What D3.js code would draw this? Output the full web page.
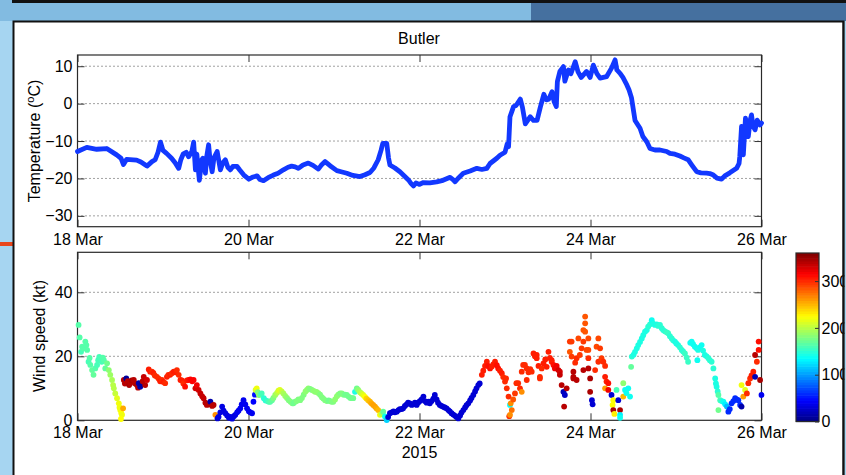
<!DOCTYPE html>
<html><head><meta charset="utf-8">
<script src="https://cdn.jsdelivr.net/npm/d3@7"></script>
<style>
body{margin:0;background:#a4d3ef;}
svg{display:block;font-family:"Liberation Sans",Arial,Helvetica,sans-serif;}
</style>
</head><body><svg id="c" width="846" height="475"></svg>
<script>
// ---------------- DATA ----------------
// hours after 18 Mar 2015 00:00
const tempHours=[0,2.6,5.4,8.2,11.0,12.2,12.9,13.8,16.6,17.8,
19.5,20.9,21.8,22.6,23.3,24.0,25.0,26.4,27.4,28.4,
29.0,29.7,30.5,31.2,32.1,32.6,33.1,33.5,34.2,34.9,
35.2,35.9,36.3,36.8,37.2,37.8,38.3,39.2,39.7,40.1,
40.8,41.5,42.2,42.9,43.6,44.8,45.6,46.7,48.1,49.3,
50.4,51.2,52.2,53.5,55.0,56.3,57.8,59.1,60.1,61.1,
62.0,63.3,64.8,66.1,67.6,68.4,69.5,70.9,72.8,74.0,
75.6,77.3,79.3,80.7,82.1,83.2,84.4,85.2,85.7,86.8,
87.3,87.7,89.1,90.5,91.6,92.9,93.6,94.3,95.0,95.9,
97.1,98.9,100.8,102.6,104.6,105.4,106.0,106.8,108.3,110.2,
112.1,113.5,114.9,115.8,117.7,118.6,120.0,120.6,121.0,121.4,
122.4,123.1,124.3,124.9,125.7,127.1,128.0,129.0,129.9,130.9,
131.6,132.3,133.2,133.8,134.4,134.7,135.4,136.4,136.8,137.8,
138.5,139.7,140.5,141.4,142.9,143.9,144.8,145.8,146.7,148.5,
149.9,150.9,151.4,152.3,153.1,154.2,154.8,155.5,156.5,157.9,
158.7,159.8,160.7,162.1,163.5,165.4,166.3,167.7,169.1,170.2,
171.4,172.5,173.8,175.0,176.6,177.5,178.5,179.5,180.8,181.7,
183.1,185.0,185.7,185.9,186.4,186.9,187.5,188.3,188.8,189.2,
189.6,190.2,190.8,191.6,192];
const tempValues=[-12.8,-11.7,-12.2,-12.0,-13.7,-14.6,-16.3,-14.9,-15.1,-15.6,
-16.7,-15.5,-15.0,-13,-10.3,-12.5,-13.3,-14.6,-15.8,-17.3,
-15,-13.4,-13,-14.2,-12.8,-10.3,-17.7,-13.5,-20.5,-15,
-14.6,-18.6,-14,-11.0,-15,-18.2,-14.5,-12.8,-15.5,-17.7,
-15.8,-15,-17,-17.7,-16.8,-16.8,-17.8,-19.1,-20.2,-19.6,
-19.3,-20.3,-20.6,-19.8,-19.1,-18.6,-17.7,-17.0,-16.7,-16.9,
-17.3,-16.4,-15.9,-16.5,-17.5,-16.5,-15.5,-16.6,-17.9,-18.2,
-18.6,-19.2,-19.5,-19.0,-18.4,-17.2,-15,-12.5,-10.6,-10.6,
-14.5,-16.4,-17.2,-18.2,-19.2,-20.4,-21.3,-22,-21.2,-21.6,
-21.1,-21.2,-20.9,-20.5,-19.7,-20.3,-20.9,-20.0,-18.6,-18.0,
-17.3,-17.6,-17.3,-16.0,-14.6,-13.8,-13.0,-10.8,-11.5,-3.5,
-0.8,-0.5,1.2,-1,-5.4,-3.5,-4.5,-4.5,-1,2.5,
1,1.2,3.2,0.5,-0.8,5.9,8.6,9.9,6.0,9.0,
8.0,11.2,8.5,7.0,8.6,7.0,10.3,8.0,6.8,7.2,
9.5,11.7,9,8.1,7.0,5,3.7,1.6,-4.5,-6.6,
-8.8,-10.2,-12.0,-12.4,-12.4,-12.8,-13.3,-13.5,-14.0,-14.5,
-15,-16.5,-18.2,-18.5,-18.6,-18.7,-19.1,-19.9,-20.2,-19.3,
-18.5,-17.3,-16.0,-14.2,-6.1,-13.7,-3.9,-8.8,-4.5,-3.0,
-6,-7.0,-4.4,-5.7,-5.2];

// wind observations: [hour, speed (kt), direction (deg)]
const windObs=[
[0.3,29.8,165],[0.6,25.9,165],[1.0,21.4,160],[1.3,23,165],[1.6,22.5,165],[2.2,24.6,165],[2.5,23.5,165],[2.7,22,165],[3.1,18.3,160],[3.4,19.5,165],[3.6,17.3,165],[4.1,15.7,170],[4.5,14.2,170],[5.0,16.2,165],[5.5,17.3,160],[5.8,18.8,160],[6.1,19.8,160],[6.4,19.4,160],[6.8,18.3,160],[7.1,19.6,165],[7.4,18.8,165],[7.8,16.2,170],[8.3,17.8,175],[8.8,15.7,185],[9.2,14.2,190],[9.7,12.6,195],[10.0,11.0,200],[10.2,10,200],[10.6,8.4,205],[11.1,6.9,215],[11.6,5.3,220],[11.8,4.0,220],[12.0,3.2,220],[12.3,2.2,225],[12.5,1.7,220],[12.2,0.4,225],[12.8,3.75,255],
[13.0,12.6,340],[13.3,11.5,340],[13.7,13.1,10],[14.1,12.2,340],[14.5,11.0,345],[14.8,11.6,340],[15.2,12.5,345],[15.8,12.6,340],[16.2,11.5,340],[16.7,11,345],[17.0,10.2,340],[17.2,11.6,15],[17.6,10.5,15],[17.9,11.2,10],[18.3,12.2,340],[18.6,13.6,335],[19.0,11,340],[19.5,12.6,330],
[20.0,15.9,305],[20.4,15.2,305],[20.9,15.2,300],[21.3,14.8,305],[21.7,14.0,300],[22.3,13.6,300],[22.8,13.0,300],[23.2,12.2,305],[23.7,12.6,300],[24.1,12.0,305],[24.6,11.6,300],[25.1,13.6,305],[25.5,14.2,300],[26.0,14.2,305],[26.5,14.7,300],[27.0,15.2,305],[27.5,15.0,305],[27.9,15.7,300],[28.4,14.2,300],[28.9,12.6,305],[29.3,12.5,305],[29.7,11.5,300],[30.2,10.5,310],[30.7,12.5,305],[31.2,12.6,310],[31.7,12.8,315],[32.2,12.2,315],[32.6,12.6,315],[33.1,10,330],[33.5,11,320],[34.0,9.5,330],[34.5,8.4,335],[35.0,7.5,335],[35.4,6.9,335],[35.9,5.5,340],[36.3,4.8,340],[36.8,5.0,340],[37.3,5.8,15],[37.8,4.5,340],[38.2,4.8,340],[38.7,1.7,265],
[39.3,0.6,30],[39.6,1.1,35],[40.1,2.5,35],[40.6,4.3,35],[41.0,3.0,35],[41.5,2.2,35],[42.0,1.5,35],[42.5,0.8,35],[42.9,1.1,35],[43.4,0.5,35],[43.9,1.3,35],[44.3,1.7,35],[44.8,2.5,40],[45.2,3.0,40],[45.7,3.75,40],[46.1,5.0,40],[46.6,6.3,40],[47.1,5.0,40],[47.6,3.75,40],[48.1,2.8,40],[48.5,2.5,40],[49.0,2.2,40],[49.4,5.8,45],[49.8,8.0,50],
[50.0,9.5,210],[50.3,10.0,220],[50.6,8.8,180],[50.9,7.9,190],[51.3,8.0,170],[51.7,8.4,160],[52.3,6.9,150],[52.8,6.2,150],[53.3,6.0,155],[53.7,5.8,160],[54.1,5.8,165],[54.6,6.3,170],[55.0,7.0,180],[55.5,7.9,190],[56.0,8.6,200],[56.4,9.3,210],[56.8,9.5,215],[57.3,9.0,205],[57.8,8.4,195],[58.3,7.6,190],[58.8,7.0,185],[59.3,6.3,180],[59.8,5.8,180],[60.3,5.3,180],[60.6,5.3,175],[61.1,5.8,175],[61.5,6.0,180],[62.0,6.5,180],[62.5,6.3,180],[63.0,7.0,180],[63.5,8.0,180],[64.0,9.0,185],[64.4,9.5,185],[64.8,10,185],[65.3,9.8,180],[65.8,9.5,180],[66.3,9.2,185],[66.7,8.9,185],[67.1,8.9,185],[67.6,8.5,185],[68.1,8.0,180],[68.6,7.2,180],[69.0,6.8,180],[69.5,6.3,180],[70.0,6.0,180],[70.5,6.2,175],[70.9,6.0,175],[71.3,5.8,180],[71.8,5.8,180],[72.3,6.5,185],[72.8,7.5,185],[73.2,8.0,185],[73.7,8.4,180],[74.2,8.4,180],[74.7,8.0,180],[75.1,8.0,175],[75.6,7.9,175],[76.1,7.4,175],[76.6,7.0,175],[77.0,6.9,175],[77.4,6.9,175],[77.9,8.9,145],[78.4,10,175],[78.8,9.5,185],[79.3,8.8,195],[79.7,8.4,205],[80.2,7.9,215],[80.7,7.3,225],[81.1,6.8,240],[81.6,6.3,245],[82.1,5.8,250],[82.5,5.3,255],[83.0,4.8,258],[83.5,4.3,258],[83.9,3.75,255],[84.4,3.2,250],[84.9,1.7,220],[85.4,2.0,200],[85.8,2.7,170],[86.3,1.2,140],[86.8,0.1,120],
[87.2,1.0,30],[87.7,2.2,30],[88.2,2.5,30],[88.7,2.8,30],[89.1,2.5,30],[89.6,2.7,30],[90.1,3.2,30],[90.5,3.5,30],[91.0,3.5,30],[91.4,3.75,30],[91.9,4.5,30],[92.4,5.0,30],[92.8,5.5,30],[93.3,5.3,30],[93.8,4.8,30],[94.2,5.0,30],[94.7,5.5,30],[95.2,4.8,30],[95.6,5.5,30],[96.1,6.0,30],[96.6,6.5,30],[97.1,7.4,30],[97.5,6.0,30],[98.0,5.5,30],[98.5,5.8,30],[98.9,5.3,30],[99.4,6.0,30],[99.9,6.8,30],[100.3,7.9,30],[100.8,6.5,30],[101.2,5.5,30],[101.7,4.8,30],[102.2,4.5,30],[102.7,4.2,30],[103.1,4.0,30],[103.6,3.75,30],[104.1,3.2,30],[104.5,2.8,30],[105.0,2.2,30],[105.5,1.8,30],[106.0,1.4,30],[106.4,1.0,30],[106.9,0.6,30],[107.4,1.5,30],[107.8,2.4,30],[108.3,3.2,30],[108.8,4.0,30],[109.2,4.7,30],[109.7,5.3,30],[110.2,6.2,30],[110.6,7.0,30],[111.1,7.9,30],[111.6,9.0,30],[112.0,10,30],[112.5,11,30],[112.9,11.5,30],
[113.5,14.2,305],[113.9,15.5,305],[114.4,17.0,305],[114.9,18.3,305],[115.3,17.0,310],[115.8,16.2,310],[116.3,16.8,305],[116.7,17.5,305],[117.2,18.3,305],[117.7,17.2,310],[118.1,16.2,310],[118.6,15.5,305],[119.1,14.7,305],[119.5,13.5,300],[120.0,12.1,300],[120.3,13.1,300],[120.5,10.0,300],[121.0,7.4,300],[121.2,1.3,300],[121.4,4.8,135],[121.6,5.3,265],[121.9,3.2,275],[121.4,1.7,265],[122.3,6.5,285],[122.8,8.4,295],[123.2,11.6,300],[123.7,11.6,300],[124.2,10,300],[124.7,8.9,265],[124.7,15.2,300],[125.1,17.3,300],[125.6,17.3,300],[126.1,16.2,300],[126.1,12.6,300],[126.6,15.0,300],[127.1,16.0,300],[127.5,15.2,300],[128.0,20.9,305],[128.4,20.0,305],[128.9,19.4,305],[128.9,20.4,305],[129.4,17.0,305],[129.8,13.6,300],[129.8,13.1,300],[130.3,16.2,300],[130.8,17.8,305],[131.3,19.0,305],[131.7,16.7,305],[132.2,21.4,305],[132.6,19.5,305],[133.1,18.8,305],[133.1,18.3,305],[133.6,17.3,310],[134.0,16.2,320],[134.5,17.0,320],[135.0,15.7,330],[135.4,15.2,330],[135.4,14.2,335],[135.9,11,340],[136.4,8.9,20],[136.8,7.9,25],[136.6,4.3,340],[137.3,10,340],
[138.2,24.6,295],[138.2,21.4,285],[138.7,19.9,295],[138.7,24.6,295],[139.2,13.6,340],[139.2,15.2,340],[139.2,13.1,340],[139.7,18.0,300],[140.1,12.6,340],[140.1,19.4,300],[140.6,25.6,290],[141.0,20.4,295],[141.5,22.5,295],[142.0,28.2,285],[142.0,15.7,340],[142.0,24.6,295],[142.5,32.4,285],[142.5,30.3,285],[142.5,27.7,285],[142.9,22,290],[143.4,25.6,290],[143.4,22,290],[143.4,19.4,300],[143.4,16.2,340],[143.9,13.1,345],[143.9,8.9,345],[144.4,6.3,30],[144.6,5.0,30],[145.3,15.7,300],[145.7,23,290],[146.2,25.6,290],[146.2,18.3,300],[146.7,22.5,295],[147.1,19.4,295],[147.6,18.3,300],[148.1,17.0,300],[148.1,13.6,305],[148.5,12.1,305],[148.1,10,260],[149.0,11.6,310],[149.0,9.5,320],[149.9,7.9,30],[150.2,4.8,225],[150.4,6.3,225],[150.4,3.2,345],[150.7,2.0,230],[151.3,9.5,160],[151.8,6.3,30],[152.3,3.2,345],[152.3,1.7,130],[152.3,0.8,140],[153.2,11.6,185],[153.2,7.4,250],[153.7,9.5,140],[154.1,8.5,140],[154.6,10,140],[155.1,7.4,140],[155.4,16.7,170],[155.6,19.9,150],
[156.1,20.5,145],[156.5,21.4,145],[157.0,22.5,145],[157.4,23.5,145],[157.9,24.5,145],[158.4,25.6,145],[158.8,26.6,145],[159.3,27.7,145],[159.8,28.2,145],[160.2,29.3,150],[160.7,30.0,150],[161.2,31.3,140],[161.6,30.2,145],[162.1,29.8,145],[162.6,30.0,145],[163.0,29.5,150],[163.5,29.8,150],[164.0,28.8,150],[164.4,28.2,150],[164.9,27.8,150],[165.4,27.5,155],[165.8,27.2,155],[166.3,26.3,150],[166.8,25.6,150],[167.2,25.0,150],[167.7,24.6,145],[168.1,24.0,145],[168.6,23.5,145],[169.1,22.8,150],[169.6,22,150],[170.0,21.5,150],[170.5,20.9,155],[171.0,19.6,155],[171.4,18.3,155],[172.0,24.2,140],[172.4,24.6,140],[172.8,23.8,140],[173.3,23,140],[173.8,22.5,140],[174.2,22,145],[174.0,18.8,140],[174.7,22.8,140],[175.2,23.5,140],[175.6,21.8,145],[176.1,20.4,145],[176.6,20.0,145],[177.1,19.4,150],[177.5,18.8,150],[178.0,18.3,150],[178.5,16.2,150],[179.0,13.1,145],[179.2,11.5,145],[179.4,10.5,145],[179.7,9.0,150],[179.9,7.9,165],[180.4,6.3,160],[179.9,3.2,175],[180.8,6.0,150],
[181.3,5.8,140],[181.8,5.0,130],[182.3,4.3,110],[182.7,2.7,60],[183.1,3.5,60],[183.6,5.3,60],[184.1,6.0,60],[184.6,6.9,60],[185.0,6.5,60],[185.5,6.3,60],[186.0,4.8,60],[186.4,4.3,15],[186.4,11,220],[186.9,7.4,260],[187.4,9.5,215],[187.9,8.4,300],[188.3,11.6,300],[188.8,13.1,300],[189.2,14.0,305],[189.7,15.2,305],[190.2,13.6,20],[190.2,20.4,340],[190.7,18.3,300],[191.2,22,310],[191.2,24.6,310],[191.6,12.6,345],[192.0,7.9,40]
];

const dateTickLabels=["18 Mar","20 Mar","22 Mar","24 Mar","26 Mar"];
const tempTicks=[10,0,-10,-20,-30];
const windTicks=[0,20,40];
const windGrid=[20,40];
const dirTicks=[0,100,200,300];
const titleText="Butler";
const yearText="2015";

// ---------------- DRAW ----------------
const svg=d3.select("#c");
const t0=Date.UTC(2015,2,18);
const toDate=h=>new Date(t0+h*3600e3);

// slide background
svg.append("rect").attr("x",0).attr("y",0).attr("width",846).attr("height",475).attr("fill","#a6d5f1");
svg.append("rect").attr("x",0).attr("y",0).attr("width",846).attr("height",21).attr("fill","#82bbe1");
svg.append("rect").attr("x",531).attr("y",3).attr("width",315).attr("height",18).attr("fill","#45709f");
svg.append("rect").attr("x",12).attr("y",0).attr("width",834).attr("height",3).attr("fill","#111");
svg.append("rect").attr("x",0).attr("y",242).attr("width",13).attr("height",4).attr("fill","#e8461c");
// figure
svg.append("rect").attr("x",13.5).attr("y",21.5).attr("width",830).attr("height",460)
  .attr("fill","#fff").attr("stroke","#111").attr("stroke-width",2);

const L=77.5,R=761.5,T1=55,B1=226.7,T2=252.3,B2=420.3;
const x=d3.scaleUtc().domain([toDate(0),toDate(192)]).range([L,R]);
const yT=d3.scaleLinear().domain([-32.9,13]).range([B1,T1]);
const yW=d3.scaleLinear().domain([0,52.5]).range([B2,T2]);
const dateTicks=dateTickLabels.map((s,i)=>toDate(i*48));
const fmt=(d)=>dateTickLabels[dateTicks.findIndex(t=>+t===+d)];

function jet(t){
  const c=v=>Math.max(0,Math.min(1,v));
  const r=c(1.5-Math.abs(4*t-3)),g=c(1.5-Math.abs(4*t-2)),b=c(1.5-Math.abs(4*t-1));
  return d3.rgb(r*255,g*255,b*255).toString();
}
const cDir=d3.scaleLinear().domain([0,360]).range([0,1]).clamp(true);

function panel(yScale,top,bottom,yTicks,gridVals){
  const g=svg.append("g");
  g.selectAll(".gr").data(gridVals).enter().append("line")
    .attr("x1",L).attr("x2",R).attr("y1",d=>yScale(d)).attr("y2",d=>yScale(d))
    .attr("stroke","#444").attr("stroke-width",1).attr("stroke-dasharray","1,3");
  const styleAx=sel=>{sel.select(".domain").remove();sel.selectAll("line").attr("stroke","#333");
    sel.selectAll("text").attr("font-size",16).attr("fill","#000").attr("font-family","Liberation Sans, Arial, sans-serif");};
  g.append("g").attr("transform",`translate(0,${bottom})`)
    .call(d3.axisBottom(x).tickValues(dateTicks).tickFormat(fmt).tickSize(-7).tickPadding(6.5)).call(styleAx);
  g.append("g").attr("transform",`translate(0,${top})`)
    .call(d3.axisTop(x).tickValues(dateTicks).tickFormat("").tickSize(-7)).call(styleAx);
  g.append("g").attr("transform",`translate(${L},0)`)
    .call(d3.axisLeft(yScale).tickValues(yTicks).tickSize(-7).tickPadding(5)).call(styleAx);
  g.append("g").attr("transform",`translate(${R},0)`)
    .call(d3.axisRight(yScale).tickValues(yTicks).tickFormat("").tickSize(-7)).call(styleAx);
  g.append("rect").attr("x",L).attr("y",top).attr("width",R-L).attr("height",bottom-top)
    .attr("fill","none").attr("stroke","#2a2a2a").attr("stroke-width",1.2);
  return g;
}

panel(yT,T1,B1,tempTicks,tempTicks);
panel(yW,T2,B2,windTicks,windGrid);

// temperature line
const tData=tempHours.map((h,i)=>({d:toDate(h),v:tempValues[i]}));
svg.append("path").datum(tData)
  .attr("d",d3.line().x(d=>x(d.d)).y(d=>yT(d.v)))
  .attr("fill","none").attr("stroke","#1238ff").attr("stroke-width",4.8)
  .attr("stroke-linejoin","round").attr("stroke-linecap","round");

// wind scatter
svg.append("g").selectAll("circle").data(windObs).enter().append("circle")
  .attr("cx",d=>x(toDate(d[0]))).attr("cy",d=>yW(d[1])).attr("r",2.9)
  .attr("fill",d=>jet(cDir(d[2])));

// labels
svg.append("text").attr("x",419).attr("y",43.5).attr("text-anchor","middle").attr("font-size",16).text(titleText);
svg.append("text").attr("x",x(dateTicks[2])).attr("y",457.5).attr("text-anchor","middle").attr("font-size",16).text(yearText);
const tl=svg.append("text").attr("transform","translate(40,141) rotate(-90)").attr("text-anchor","middle").attr("font-size",16);
tl.append("tspan").text("Temperature (");
tl.append("tspan").attr("font-size",11).attr("dy",-6).text("o");
tl.append("tspan").attr("dy",6).text("C)");
svg.append("text").attr("transform","translate(45,336) rotate(-90)").attr("text-anchor","middle").attr("font-size",16).text("Wind speed (kt)");

// colorbar
const cbX=796,cbW=23,cbT=253,cbB=421.5;
const yC=d3.scaleLinear().domain([0,360]).range([cbB,cbT]);
const nC=64;
svg.append("g").selectAll("rect").data(d3.range(nC)).enter().append("rect")
  .attr("x",cbX).attr("width",cbW)
  .attr("y",i=>yC((i+1)*360/nC)).attr("height",i=>yC(i*360/nC)-yC((i+1)*360/nC)+0.6)
  .attr("fill",i=>jet((i+0.5)/nC));
svg.append("rect").attr("x",cbX).attr("y",cbT).attr("width",cbW).attr("height",cbB-cbT)
  .attr("fill","none").attr("stroke","#2a2a2a").attr("stroke-width",1.2);
const cax=svg.append("g").attr("transform",`translate(${cbX+cbW},0)`)
  .call(d3.axisRight(yC).tickValues(dirTicks).tickSize(-4).tickPadding(2.5));
cax.select(".domain").remove();
cax.selectAll("line").attr("stroke","#333");
cax.selectAll("text").attr("font-size",16).attr("fill","#000").attr("font-family","Liberation Sans, Arial, sans-serif");

// right edge of figure (clips colorbar labels as in the original screenshot)
svg.append("rect").attr("x",844.5).attr("y",21).attr("width",2).attr("height",454).attr("fill","#a6d5f1");
svg.append("line").attr("x1",843.5).attr("x2",843.5).attr("y1",21).attr("y2",475).attr("stroke","#111").attr("stroke-width",2);
</script></body></html>
